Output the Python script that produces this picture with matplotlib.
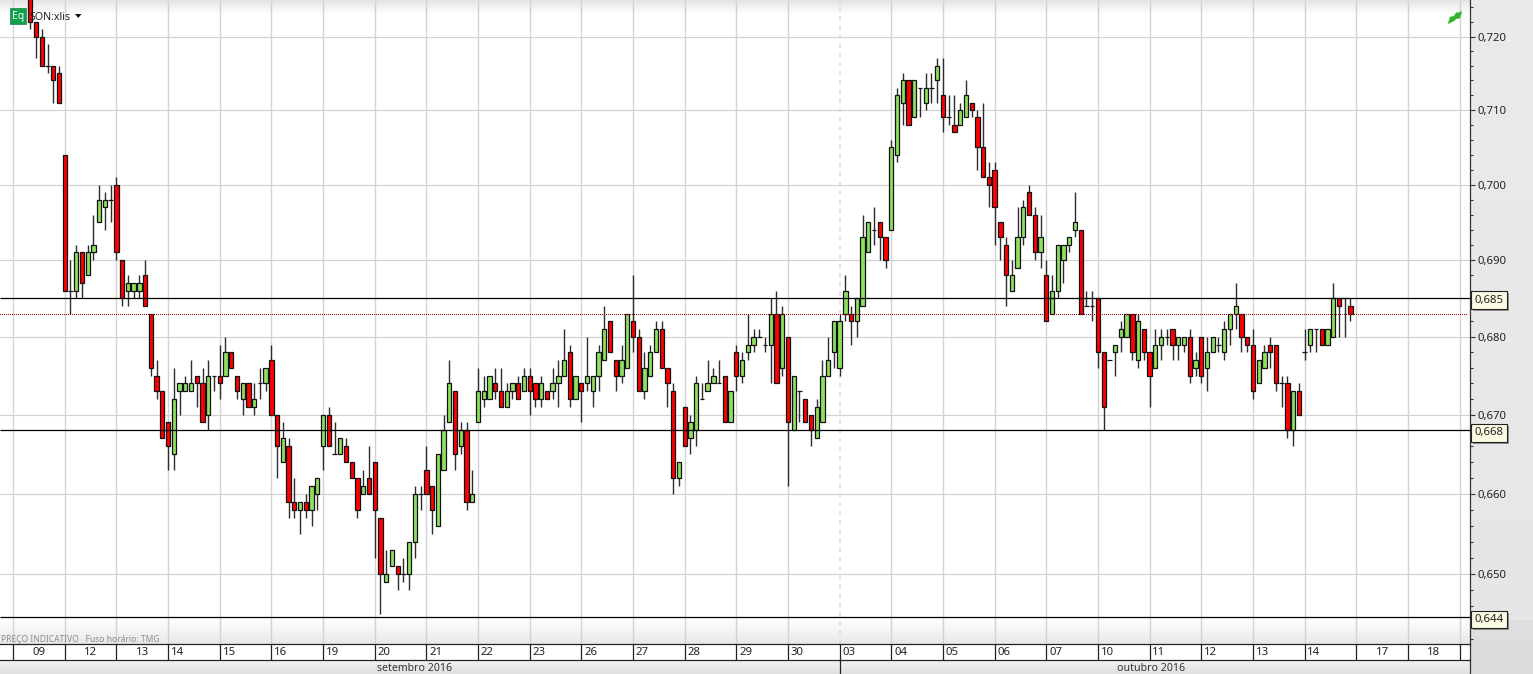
import numpy as np
import matplotlib
matplotlib.use("Agg")
import matplotlib.pyplot as plt
from matplotlib.patches import Rectangle, Polygon
from matplotlib.patheffects import withSimplePatchShadow
from matplotlib.ticker import FixedLocator, NullFormatter

plt.rcParams['font.family'] = ['Noto Sans', 'DejaVu Sans']

# Prices in thousandths
opens = [726,722,720,716,716,715,704,686,686,691,
         688,691,695,697,698,700,690,686,686,686,
         688,683,675,673,669,665,673,673,673,675,
         674,670,675,675,675,678,675,672,674,671,
         674,674,677,670,664,666,659,658,659,658,
         660,666,670,665,665,666,664,662,660,662,
         664,657,649,651,651,650,650,654,660,663,
         661,656,663,669,673,666,668,659,669,672,
         672,674,673,671,673,674,673,675,674,672,
         673,673,674,675,678,672,674,674,673,675,
         677,682,677,675,676,682,680,673,675,678,
         681,676,673,662,671,667,668,672,673,674,
         674,675,669,678,675,678,679,680,679,679,
         683,676,680,668,673,672,670,667,669,675,
         678,676,683,683,682,684,691,694,695,693,
         694,704,711,714,709,713,711,713,714,712,
         709,708,708,709,711,709,705,701,702,695,
         692,686,689,693,699,696,691,688,683,686,
         690,692,694,694,684,684,685,678,677,678,
         680,680,683,677,681,678,676,679,680,681,
         679,679,680,676,680,676,678,679,678,681,
         683,683,680,679,674,676,679,679,674,674,
         668,673,678,679,681,681,679,680,685,685,684]
closes = [722,720,716,716,714,711,686,686,691,687,
          691,692,698,698,698,691,685,687,687,687,
          684,676,673,667,666,672,674,674,674,674,
          669,675,675,674,678,676,673,674,671,672,
          674,676,670,666,667,659,658,659,658,661,
          662,670,666,665,667,664,662,658,661,660,
          658,650,650,653,650,650,654,660,660,660,
          658,665,668,674,665,668,659,660,673,673,
          675,673,671,673,674,672,675,673,672,674,
          672,674,675,677,672,675,673,675,675,678,
          681,678,675,677,683,680,673,676,678,681,
          676,674,662,664,666,669,674,672,674,675,
          674,669,673,675,677,679,680,680,679,683,
          674,683,669,675,673,669,668,671,675,677,
          682,682,686,682,685,693,695,694,693,690,
          705,712,714,708,714,713,713,713,716,709,
          709,707,710,712,710,705,701,700,697,693,
          688,688,693,697,696,691,693,682,686,692,
          692,693,695,683,684,684,678,671,677,679,
          681,683,678,682,678,675,679,680,680,679,
          680,680,675,677,675,678,680,679,681,683,
          684,680,679,673,677,678,678,674,674,668,
          673,670,678,681,681,679,681,685,684,685,683]
highs = [726,722,721,719,716,716,704,690,692,691,
         692,696,700,699,700,701,690,688,687,688,
         690,683,677,673,669,676,674,675,677,675,
         676,677,675,679,680,678,675,674,674,674,
         676,676,679,670,669,667,662,659,660,661,
         662,670,671,669,667,667,664,662,663,666,
         664,657,653,653,651,652,654,661,661,666,
         661,665,670,677,673,669,669,663,676,675,
         675,676,676,674,674,675,676,676,674,675,
         673,676,677,681,679,675,674,680,675,679,
         684,682,677,679,683,688,681,678,679,682,
         682,676,674,664,671,670,675,674,677,676,
         677,675,673,679,678,683,681,681,680,685,
         686,684,680,675,673,672,670,672,677,680,
         682,683,688,684,685,696,695,697,695,693,
         706,713,715,714,714,713,715,715,717,717,
         712,712,711,714,711,710,711,703,703,695,
         693,690,697,698,700,697,696,690,688,692,
         692,693,699,694,686,686,685,678,677,679,
         682,683,683,683,681,678,681,681,681,681,
         680,680,681,678,680,680,680,680,682,683,
         687,683,680,681,677,679,680,679,675,675,
         673,674,681,681,681,681,681,687,685,685,685]
lows = [721,717,716,715,711,711,686,683,685,685,
        688,690,695,694,695,690,684,684,685,685,
        684,675,672,667,663,663,670,673,673,671,
        669,668,673,672,675,676,672,670,671,670,
        672,673,670,662,664,657,657,655,657,656,
        658,663,666,665,665,664,662,657,660,660,
        652,645,649,651,648,649,648,652,658,660,
        655,656,663,669,663,665,658,659,669,671,
        672,672,671,671,672,672,673,670,671,671,
        672,672,671,675,671,672,669,673,671,673,
        677,678,673,674,676,678,673,672,675,678,
        676,671,660,661,666,665,666,672,673,674,
        674,669,669,673,674,677,678,680,678,674,
        674,675,661,668,669,669,666,667,669,675,
        676,675,682,679,680,684,691,692,690,689,
        694,703,708,708,709,709,710,711,711,707,
        708,707,708,709,709,702,701,697,692,690,
        684,686,689,692,696,690,689,682,683,685,
        687,691,693,683,684,682,676,668,677,675,
        678,680,677,676,677,671,676,677,679,677,
        677,678,674,675,674,673,678,678,677,679,
        681,678,678,672,674,676,676,673,671,667,
        666,670,677,678,678,679,679,680,680,680,682]

day_labels = ['09','12','13','14','15','16','19','20','21','22','23','26','27','28',
              '29','30','03','04','05','06','07','10','11','12','13','14','17','18']
month_labels = ['setembro 2016', 'outubro 2016']
level_values = [0.6851, 0.6680, 0.6447]
level_labels = ['0,685', '0,668', '0,644']
last_price = 0.683
price_ticks = [0.65, 0.66, 0.67, 0.68, 0.69, 0.70, 0.71, 0.72]
price_tick_labels = ['0,650', '0,660', '0,670', '0,680', '0,690', '0,700', '0,710', '0,720']

W, H = 1533, 674
PW, PH = 1470, 644          # plot area in pixels
STEP, X0 = 5.74, 30.3       # pixels per candle, pixel of first candle
CANDLES_PER_DAY = 9
FIRST_DAY = -3


def fx(px):
    return px / W


def fy(py):
    return 1 - py / H


o, c, h, l = [np.array(a) / 1000 for a in (opens, closes, highs, lows)]
idx = np.arange(len(o))

fig = plt.figure(figsize=(W / 100, H / 100), dpi=100, facecolor='#e6e6e6')

# Backgrounds and gradients
bg = fig.add_axes([0, 0, 1, 1], zorder=0)
bg.set_xlim(0, W)
bg.set_ylim(H, 0)
bg.axis('off')


def vgrad(x0, x1, y0, y1, c0, c1):
    g = np.linspace(c0, c1, 64).reshape(-1, 1)
    bg.imshow(g, extent=(x0, x1, y1, y0), cmap='gray', vmin=0, vmax=1,
              aspect='auto', interpolation='bilinear')


vgrad(0, W, 0, H, 0.91, 0.865)
vgrad(PW, W, 0, 620, 0.915, 0.90)
vgrad(0, PW, 0, PH, 1, 1)
vgrad(0, PW, 0, 14, 0.89, 1)
vgrad(0, PW, 618, PH, 1, 0.91)
vgrad(0, PW, PH, 660, 1, 1)
vgrad(0, PW, 660, H, 0.95, 0.875)
bg.vlines([PW], PH, H, color='#333333', lw=0.9)
bg.set_xlim(0, W)
bg.set_ylim(H, 0)

# Main axes
ax = fig.add_axes([0, 1 - PH / H, PW / W, PH / H], zorder=2)
ax.patch.set_alpha(0)
xlim = ((0 - X0) / STEP, (PW - X0) / STEP)
ax.set_xlim(*xlim)
ax.set_yscale('log')
k = 5254.0
ax.set_ylim(0.72 * np.exp(-(PH - 36.5) / k), 0.72 * np.exp(36.5 / k))

boundaries = FIRST_DAY + CANDLES_PER_DAY * np.arange(len(day_labels) + 1)
month_split = FIRST_DAY + CANDLES_PER_DAY * day_labels.index('03')

GRID = '#d2d2d2'
ax.hlines(price_ticks, 0, 1, transform=ax.get_yaxis_transform(), color=GRID, lw=0.85, zorder=1)
solid = boundaries[boundaries != month_split]
ax.vlines(solid, 0, 1, transform=ax.get_xaxis_transform(), color=GRID, lw=1.0, zorder=1)
ax.axvline(month_split, color='#dddddd', lw=1.1, ls=(0, (3, 3)), zorder=1)

# Candles
up = c > o
down = c < o
flat = c == o
tops = np.maximum(o, c)
bots = np.minimum(o, c)
ax.vlines(idx, l, h, color='#2d2d2d', lw=1.0, zorder=3)
for mask, col in ((up, '#90e060'), (down, '#ff0000')):
    ax.bar(idx[mask], (tops - bots)[mask], bottom=bots[mask], width=0.75,
           color=col, edgecolor='#111111', linewidth=0.9, zorder=4)
ax.hlines(c[flat], idx[flat] - 0.4, idx[flat] + 0.4, color='#111111', lw=0.9, zorder=4)

# Level lines
ax.hlines(level_values, 0, 1, transform=ax.get_yaxis_transform(), color='black', lw=0.9, zorder=5)
ax.hlines([last_price], 0, 0.9985, transform=ax.get_yaxis_transform(), color='#a00000',
          lw=0.72, ls=(0, (0.5, 1.5)), antialiased=False, zorder=5)

# Axis
for s in ('top', 'left', 'bottom'):
    ax.spines[s].set_visible(False)
ax.spines['right'].set_color('#333333')
ax.spines['right'].set_linewidth(0.9)
ax.set_xticks([])
ax.yaxis.tick_right()
ax.yaxis.set_major_locator(FixedLocator(price_ticks))
ax.set_yticklabels(price_tick_labels)
minor = [v / 1000 for v in range(642, 726, 2) if v % 10 != 0]
ax.yaxis.set_minor_locator(FixedLocator(minor))
ax.yaxis.set_minor_formatter(NullFormatter())
ax.tick_params(axis='y', which='major', length=3.6, width=0.8, color='#333333',
               labelsize=8.2, labelcolor='#222222', pad=1.5)
ax.tick_params(axis='y', which='minor', length=2.4, width=0.8, color='#333333')

for val, txt in zip(level_values, level_labels):
    t = ax.annotate(txt, xy=(1, val), xycoords=ax.get_yaxis_transform(),
                    xytext=(4.5, -2.5), textcoords='offset pixels', ha='left', va='center',
                    fontsize=8.2, color='#222222', annotation_clip=False, zorder=8,
                    bbox=dict(boxstyle='square,pad=0.28', fc='#fbfbe3', ec='#222222', lw=0.8))
    t.get_bbox_patch().set_path_effects([
        withSimplePatchShadow(offset=(1.5, -1.5), shadow_rgbFace='#777777', alpha=0.8)])

# Date strip
st = fig.add_axes([0, 1 - 660 / H, PW / W, 16 / H], zorder=3)
st.patch.set_alpha(0)
st.set_xlim(*xlim)
st.set_ylim(0, 1)
st.set_xticks([])
st.set_yticks([])
for s in ('left', 'right'):
    st.spines[s].set_visible(False)
for s in ('top', 'bottom'):
    st.spines[s].set_color('#222222')
    st.spines[s].set_linewidth(0.9)
st.vlines(boundaries, 0, 1, color='#222222', lw=0.9)
for i, lab in enumerate(day_labels):
    frac = 0.5 if (i < 3 or i >= 26) else 0.18
    st.text(boundaries[i] + frac * CANDLES_PER_DAY, 0.46, lab, ha='center', va='center',
            fontsize=8.2, color='#222222')

# Month strip
mt = fig.add_axes([0, 0, PW / W, 14 / H], zorder=3)
mt.patch.set_alpha(0)
mt.set_xlim(*xlim)
mt.set_ylim(0, 1)
mt.axis('off')
mt.vlines([month_split], 0, 1, color='#222222', lw=0.9)
mt.text((xlim[0] + month_split) / 2 - 1, 0.42, month_labels[0], ha='center', va='center',
        fontsize=7.6, color='#333333')
mt.text((month_split + boundaries[-1]) / 2 + 0.3, 0.42, month_labels[1], ha='center', va='center',
        fontsize=7.6, color='#333333')

# Header and footer annotations
fig.add_artist(Rectangle((fx(10), fy(24)), 16 / W, 16 / H, transform=fig.transFigure,
                         fc='#0fa04c', ec='#2a8f55', lw=0.6, zorder=6))
fig.text(fx(18), fy(17), 'Eq', ha='center', va='center', fontsize=7.5, color='white', zorder=7)
fig.text(fx(30), fy(18), 'SON:xlis', ha='left', va='center', fontsize=7.6, color='#222222', zorder=7)
fig.add_artist(Polygon([(fx(75), fy(14)), (fx(81.5), fy(14)), (fx(78.2), fy(18))],
                       transform=fig.transFigure, fc='#111111', ec='none', zorder=7))
fig.text(fx(1), fy(639), 'PREÇO INDICATIVO   Fuso horário: TMG', ha='left', va='center',
         fontsize=6.1, color='#8c8c8c', zorder=7)
bolt = [(1448, 24), (1450, 17), (1454, 16), (1456, 13), (1462, 11.5),
        (1460, 18), (1456, 19), (1454, 21)]
fig.add_artist(Polygon([(fx(x), fy(y)) for x, y in bolt], transform=fig.transFigure,
                       fc='#35b030', ec='#6cc860', lw=0.4, zorder=7))

fig.savefig('out.png', dpi=100)
